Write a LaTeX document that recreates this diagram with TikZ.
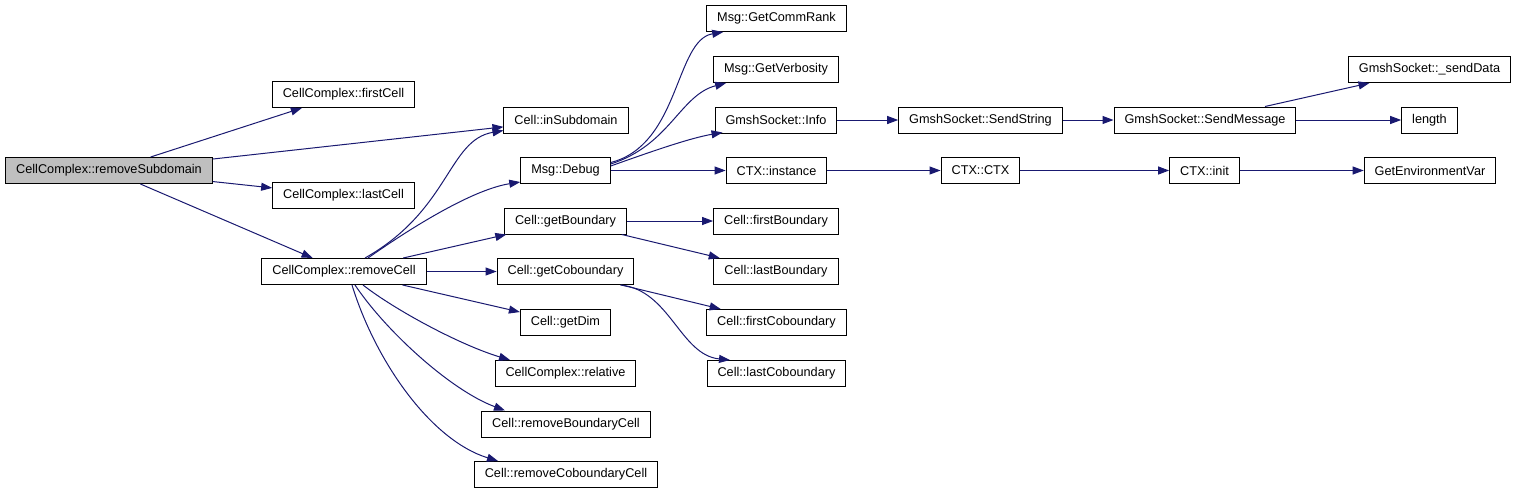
\documentclass[tikz,border=0pt]{standalone}
\usepackage{fontspec}
\setmainfont{Liberation Sans}
\usepackage{tikz}
\usetikzlibrary{calc,arrows.meta}
\definecolor{edgeblue}{HTML}{191970}
\definecolor{rootgray}{HTML}{BFBFBF}
\tikzset{fn/.style={draw=black,line width=1pt,fill=white,minimum height=26pt,inner xsep=10.5pt,inner ysep=0pt,font=\fontsize{12.7}{14}\selectfont},
  rootfn/.style={fn,fill=rootgray},
  call/.style={edgeblue,line width=1pt,-{Triangle[length=11pt,width=8pt]}}}

\begin{document}
\begin{tikzpicture}[x=1pt,y=-1pt]
\useasboundingbox (0,0) rectangle (1519,493);
% first column
\node[rootfn] (removeSubdomain) at (109,170.5) {CellComplex::removeSubdomain};
\node[fn] (firstCell) at (343.5,94.5) {CellComplex::firstCell}; \node[fn] (lastCell) at (343.5,195.5) {CellComplex::lastCell};
\node[fn] (removeCell) at (344,271.5) {CellComplex::removeCell};
% second column
\node[fn] (inSubdomain) at (566,120) {Cell::inSubdomain}; \node[fn] (msgDebug) at (565.5,170.5) {Msg::Debug};
\node[fn] (getBoundary) at (565.5,221) {Cell::getBoundary}; \node[fn] (getCoboundary) at (565.5,271.5) {Cell::getCoboundary};
\node[fn] (getDim) at (565.5,322.5) {Cell::getDim}; \node[fn] (relative) at (565.5,373.5) {CellComplex::relative};
\node[fn] (removeBdCell) at (566,424) {Cell::removeBoundaryCell}; \node[fn] (removeCobdCell) at (566,474.5) {Cell::removeCoboundaryCell};
% third column
\node[fn] (commRank) at (776.5,18.5) {Msg::GetCommRank}; \node[fn] (verbosity) at (776,69.5) {Msg::GetVerbosity};
\node[fn] (sockInfo) at (776,120) {GmshSocket::Info}; \node[fn] (ctxInstance) at (776.5,170.5) {CTX::instance};
\node[fn] (firstBd) at (776,221) {Cell::firstBoundary}; \node[fn] (lastBd) at (776,271.5) {Cell::lastBoundary};
\node[fn] (firstCobd) at (776.5,322.5) {Cell::firstCoboundary}; \node[fn] (lastCobd) at (776.5,373.5) {Cell::lastCoboundary};
% right part
\node[fn] (sendString) at (980.5,120) {GmshSocket::SendString}; \node[fn] (ctxCtx) at (980.5,170.5) {CTX::CTX};
\node[fn] (sendMessage) at (1205,120) {GmshSocket::SendMessage}; \node[fn] (ctxInit) at (1204.5,170.5) {CTX::init};
\node[fn] (sendData) at (1429.5,69.5) {GmshSocket::\_sendData}; \node[fn] (length) at (1429.5,120) {length};
\node[fn] (getEnv) at (1430,170.5) {GetEnvironmentVar};
% calls
\draw[call] (removeSubdomain) -- (firstCell); \draw[call] (removeSubdomain) -- (inSubdomain);
\draw[call] (removeSubdomain) -- (lastCell); \draw[call] (removeSubdomain) -- (removeCell);
\draw[call] ([xshift=21pt]removeCell.north) .. controls (450,210) and (448,140) .. ([yshift=3pt]inSubdomain.south west);
\draw[call] ([xshift=24pt]removeCell.north) .. controls (405,232) and (470,190) .. ([yshift=2pt]msgDebug.south west);
\draw[call] (removeCell) -- (getBoundary); \draw[call] (removeCell) -- (getCoboundary); \draw[call] (removeCell) -- (getDim);
\draw[call] ([xshift=19pt]removeCell.south) .. controls (395,310) and (460,345) .. ([xshift=-55.5pt]relative.north);
\draw[call] ([xshift=11pt]removeCell.south) .. controls (385,330) and (450,390) .. ([xshift=-61pt]removeBdCell.north);
\draw[call] ([xshift=8pt]removeCell.south) .. controls (375,360) and (430,440) .. ([xshift=-68pt]removeCobdCell.north);
\draw[call] ([yshift=8pt]msgDebug.east) .. controls (680,145) and (675,40) .. ([xshift=17pt]commRank.south west);
\draw[call] ([yshift=6.5pt]msgDebug.east) .. controls (670,145) and (680,95) .. ([xshift=13pt]verbosity.south west);
\draw[call] ([yshift=4.5pt]msgDebug.east) .. controls (650,152) and (690,138) .. ([xshift=8pt,yshift=1pt]sockInfo.south west);
\draw[call] (msgDebug) -- (ctxInstance);
\draw[call] (getBoundary) -- (firstBd); \draw[call] (getBoundary) -- (lastBd);
\draw[call] (getCoboundary) -- (firstCobd);
\draw[call] ([xshift=-14pt]getCoboundary.south east) .. controls (670,290) and (680,355) .. ([xshift=-46.5pt]lastCobd.north);
\draw[call] (sockInfo) -- (sendString); \draw[call] (sendString) -- (sendMessage);
\draw[call] (sendMessage) -- (sendData); \draw[call] (sendMessage) -- (length);
\draw[call] (ctxInstance) -- (ctxCtx); \draw[call] (ctxCtx) -- (ctxInit); \draw[call] (ctxInit) -- (getEnv);
\end{tikzpicture}
\end{document}
